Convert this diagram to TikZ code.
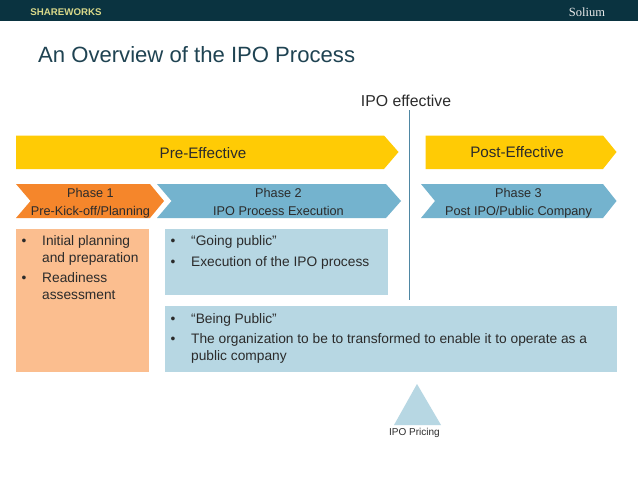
\documentclass[tikz,border=0pt]{standalone}
\usepackage{fontspec}
\setmainfont{Liberation Sans}
\newfontfamily\solfont{Liberation Serif}
\definecolor{hdr}{HTML}{0A3340}
\definecolor{ttl}{HTML}{1F4352}
\definecolor{ylw}{HTML}{FFCB05}
\definecolor{org}{HTML}{F5862B}
\definecolor{blu}{HTML}{74B3CE}
\definecolor{lblu}{HTML}{B7D7E3}
\definecolor{lorg}{HTML}{FBBE8F}
\definecolor{vln}{HTML}{4F87A3}
\definecolor{logo}{HTML}{D9D98A}
\definecolor{txt}{HTML}{2B2B2B}
\tikzset{
  x=1pt,y=-1pt,
  lbl/.style={inner sep=0pt,text=txt,font=\fontsize{15.2}{17}\selectfont},
  phase/.style={inner sep=0pt,text=txt,align=center,font=\fontsize{12.7}{18}\selectfont},
  body/.style={inner sep=0pt,anchor=north west,text=txt,align=left,font=\fontsize{13.75}{17}\selectfont},
}
\begin{document}
\begin{tikzpicture}
\useasboundingbox (0,0) rectangle (638,479);
\fill[white] (0,0) rectangle (638,479);
\fill[hdr] (0,0) rectangle (638,21);
\node[inner sep=0pt,text=logo,font=\bfseries\fontsize{9.7}{12}\selectfont] (brand) at (66,12) {SHAREWORKS};
\node[inner sep=0pt,text=white!92!black,font=\solfont\fontsize{12.5}{14}\selectfont] (solium) at (587,12) {Solium};
\node[inner sep=0pt,anchor=west,text=ttl,font=\fontsize{22.1}{26}\selectfont] (title) at (38,55) {An Overview of the IPO Process};
\node[lbl,font=\fontsize{15.8}{17}\selectfont] (eff) at (406,101) {IPO effective};
% arrows
\fill[ylw] (16,135.5) -- (384,135.5) -- (398.5,152) -- (384,169) -- (16,169) -- cycle;
\node[lbl] (pre) at (203,153.5) {Pre-Effective};
\fill[ylw] (425.5,135.5) -- (603,135.5) -- (616.5,152) -- (603,169) -- (425.5,169) -- cycle;
\node[lbl] (post) at (517,152.5) {Post-Effective};
\fill[org] (16,184) -- (150,184) -- (164,201) -- (150,218) -- (16,218) -- (30.5,201) -- cycle;
\node[phase] (p1) at (90.5,202.5) {\strut Phase 1\\\strut Pre-Kick-off/Planning};
\fill[blu] (157,184) -- (386,184) -- (401,201) -- (386,218) -- (157,218) -- (171.5,201) -- cycle;
\node[phase] (p2) at (278.5,202.5) {\strut Phase 2\\\strut IPO Process Execution};
\fill[blu] (421,184) -- (603,184) -- (616.5,201) -- (603,218) -- (421,218) -- (435,201) -- cycle;
\node[phase] (p3) at (518.5,202.5) {\strut Phase 3\\\strut Post IPO/Public Company};
% boxes
\fill[lorg] (16,229) rectangle (149,372);
\fill[lblu] (165,229) rectangle (388,295);
\fill[lblu] (165,305.5) rectangle (616.5,372);
% connector
\coordinate (vtop) at (409.3,110);
\coordinate (vbot) at (409.3,300);
\draw[vln,line width=1pt] (vtop) -- (vbot);
% body text
\node[body] (b1a) at (21.5,233.5) {\strut •};
\node[body] (t1a) at (42,233.5) {\strut Initial planning\\\strut and preparation};
\node[body] (b1b) at (21.5,270.5) {\strut •};
\node[body] (t1b) at (42,270.5) {\strut Readiness\\\strut assessment};
\node[body] (b2a) at (170.5,233) {\strut •};
\node[body] (t2a) at (191,233) {\strut “Going public”};
\node[body] (b2b) at (170.5,254) {\strut •};
\node[body] (t2b) at (191,254) {\strut Execution of the IPO process};
\node[body] (b3a) at (170.5,311) {\strut •};
\node[body] (t3a) at (191,311) {\strut “Being Public”};
\node[body] (b3b) at (170.5,331) {\strut •};
\node[body] (t3b) at (191,331) {\strut The organization to be to transformed to enable it to operate as a\\\strut public company};
% pricing
\fill[lblu] (417,384) -- (441,425) -- (394,425) -- cycle;
\node[inner sep=0pt,text=txt,font=\fontsize{10}{12}\selectfont] (pr) at (414.5,432.5) {IPO Pricing};
\end{tikzpicture}
\end{document}
